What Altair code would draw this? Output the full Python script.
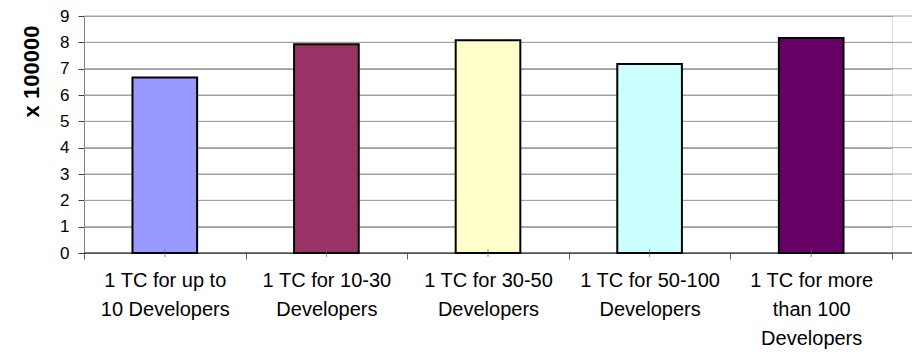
import altair as alt
import pandas as pd

categories = [
    "1 TC for up to\n10 Developers",
    "1 TC for 10-30\nDevelopers",
    "1 TC for 30-50\nDevelopers",
    "1 TC for 50-100\nDevelopers",
    "1 TC for more\nthan 100\nDevelopers",
]
values = [6.66, 7.93, 8.08, 7.18, 8.16]
colors = ["#9999FF", "#993366", "#FFFFCC", "#CCFFFF", "#660066"]
grid_values = [0, 1, 2, 3, 4, 5, 6, 7, 8, 9]
grid_colors = ["black", "#A0A0A0", "#A0A0A0", "#A0A0A0", "#A0A0A0",
               "#A0A0A0", "#A0A0A0", "#A0A0A0", "#A0A0A0", "#A0A0A0"]

df = pd.DataFrame({"cat": categories, "val": values, "color": colors})
grid_df = pd.DataFrame({"val": grid_values, "gc": grid_colors})

FONT = "Liberation Sans"

y_scale = alt.Scale(domain=[0, 9], nice=False, zero=True)
x_scale = alt.Scale(paddingInner=0, paddingOuter=0)

x_axis = alt.Axis(
    title=None,
    labelExpr="split(datum.label, '\\n')",
    labelAngle=0,
    labelFont=FONT,
    labelFontSize=20,
    labelColor="black",
    labelLineHeight=29,
    labelPadding=11,
    labelBaseline="top",
    tickBand="extent",
    tickSize=6,
    tickColor="#606060",
    domain=False,
    grid=False,
)

y_axis = alt.Axis(
    title="x 100000",
    titleFont=FONT,
    titleFontSize=22,
    titleFontWeight="bold",
    titleColor="black",
    titleAngle=270,
    titleAlign="center",
    titleBaseline="middle",
    titleX=-53,
    titleY=55,
    values=grid_values,
    tickCount=10,
    labelOverlap=False,
    labelFont=FONT,
    labelFontSize=17,
    labelColor="black",
    labelPadding=9,
    tickSize=6,
    tickColor="#404040",
    domainColor="#808080",
    grid=True,
    gridColor="#A0A0A0",
    gridWidth=1,
)

grid = alt.Chart(grid_df).mark_rule(strokeWidth=1).encode(
    y=alt.Y("val:Q", scale=y_scale, axis=y_axis),
    x=alt.value(0),
    x2=alt.value(828),
    color=alt.Color("gc:N", scale=None),
)

bars = alt.Chart(df).mark_bar(
    width=alt.RelativeBandSize(0.4),
    stroke="black",
    strokeWidth=2,
).encode(
    x=alt.X("cat:N", sort=categories, scale=x_scale, axis=x_axis),
    y=alt.Y("val:Q", scale=y_scale, axis=y_axis),
    color=alt.Color("color:N", scale=None),
)

center_ticks = alt.Chart(df).mark_tick(
    orient="vertical", size=8, thickness=1, color="#606060"
).encode(
    x=alt.X("cat:N", sort=categories, scale=x_scale, axis=x_axis),
    y=alt.Y("zero:Q", scale=y_scale, axis=y_axis),
).transform_calculate(zero="0")

chart = alt.layer(grid, bars, center_ticks).properties(
    width=808,
    height=237,
    padding={"left": 76, "top": 8, "right": 20, "bottom": 97},
    autosize=alt.AutoSizeParams(type="none"),
).configure_view(stroke=None).configure(background="white")

chart.save("out.html", embed_options={"renderer": "svg", "actions": False})
